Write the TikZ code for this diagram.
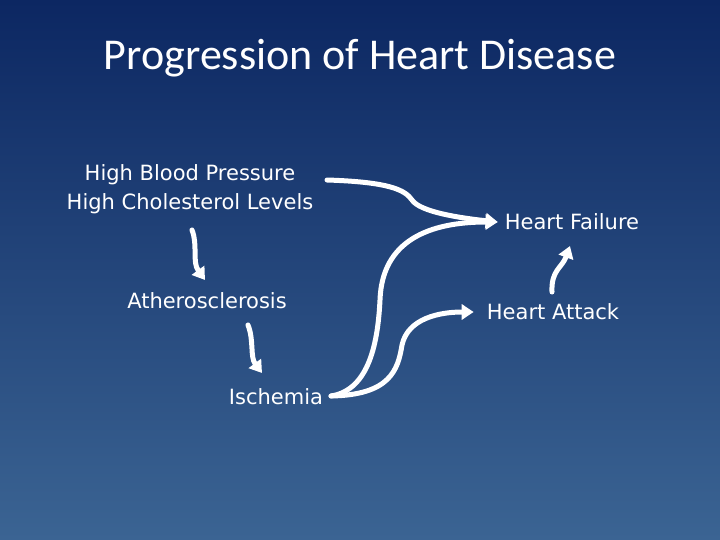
\documentclass[tikz,border=0pt]{standalone}
\usepackage{fontspec}
\setmainfont{DejaVu Sans}
\newfontfamily\titlefont{Carlito}
\usetikzlibrary{arrows.meta}
\definecolor{bgtop}{HTML}{0C2762}
\definecolor{bgbot}{HTML}{3B6493}
\begin{document}
\begin{tikzpicture}[x=1pt,y=-1pt,
  lbl/.style={text=white,font=\fontsize{21}{29}\selectfont,align=center,inner sep=0},
  arr/.style={white,line width=5pt,line cap=round,-{Triangle[length=12pt,width=15pt]}}]
\shade[top color=bgtop,bottom color=bgbot] (0,0) rectangle (720,540);
\useasboundingbox (0,0) rectangle (720,540);
\node[text=white,font=\titlefont\fontsize{44}{48}\selectfont] (title) at (360,58) {Progression of Heart Disease};
\node[lbl] (hbp) at (190,189) {High Blood Pressure\\High Cholesterol Levels};
\node[lbl] (ath) at (207,301) {Atherosclerosis};
\node[lbl] (isc) at (276,397) {Ischemia};
\node[lbl] (hf) at (572,222) {Heart Failure};
\node[lbl] (ha) at (553,312) {Heart Attack};
\coordinate (s1) at (327,180);
\coordinate (s2) at (331,396);
\coordinate (t1) at ([xshift=-7pt]hf.west);
\coordinate (t2) at ([xshift=-13pt]ha.west);
\draw[arr] (s1) .. controls (390,182) and (405,190) .. (412,200) .. controls (420,212) and (460,218) .. (t1);
\draw[arr] (s2) .. controls (370,390) and (378,340) .. (380,300) .. controls (382,240) and (430,222) .. (t1);
\draw[arr] (s2) .. controls (390,395) and (398,370) .. (402,345) .. controls (408,318) and (440,312) .. (t2);
\draw[arr] (552,292) .. controls (551,270) and (562,268) .. (570,246);
\draw[arr] (192,230) .. controls (198,245) and (192,262) .. (205,280);
\draw[arr] (248,325) .. controls (254,340) and (250,357) .. (262,373);
\end{tikzpicture}
\end{document}
